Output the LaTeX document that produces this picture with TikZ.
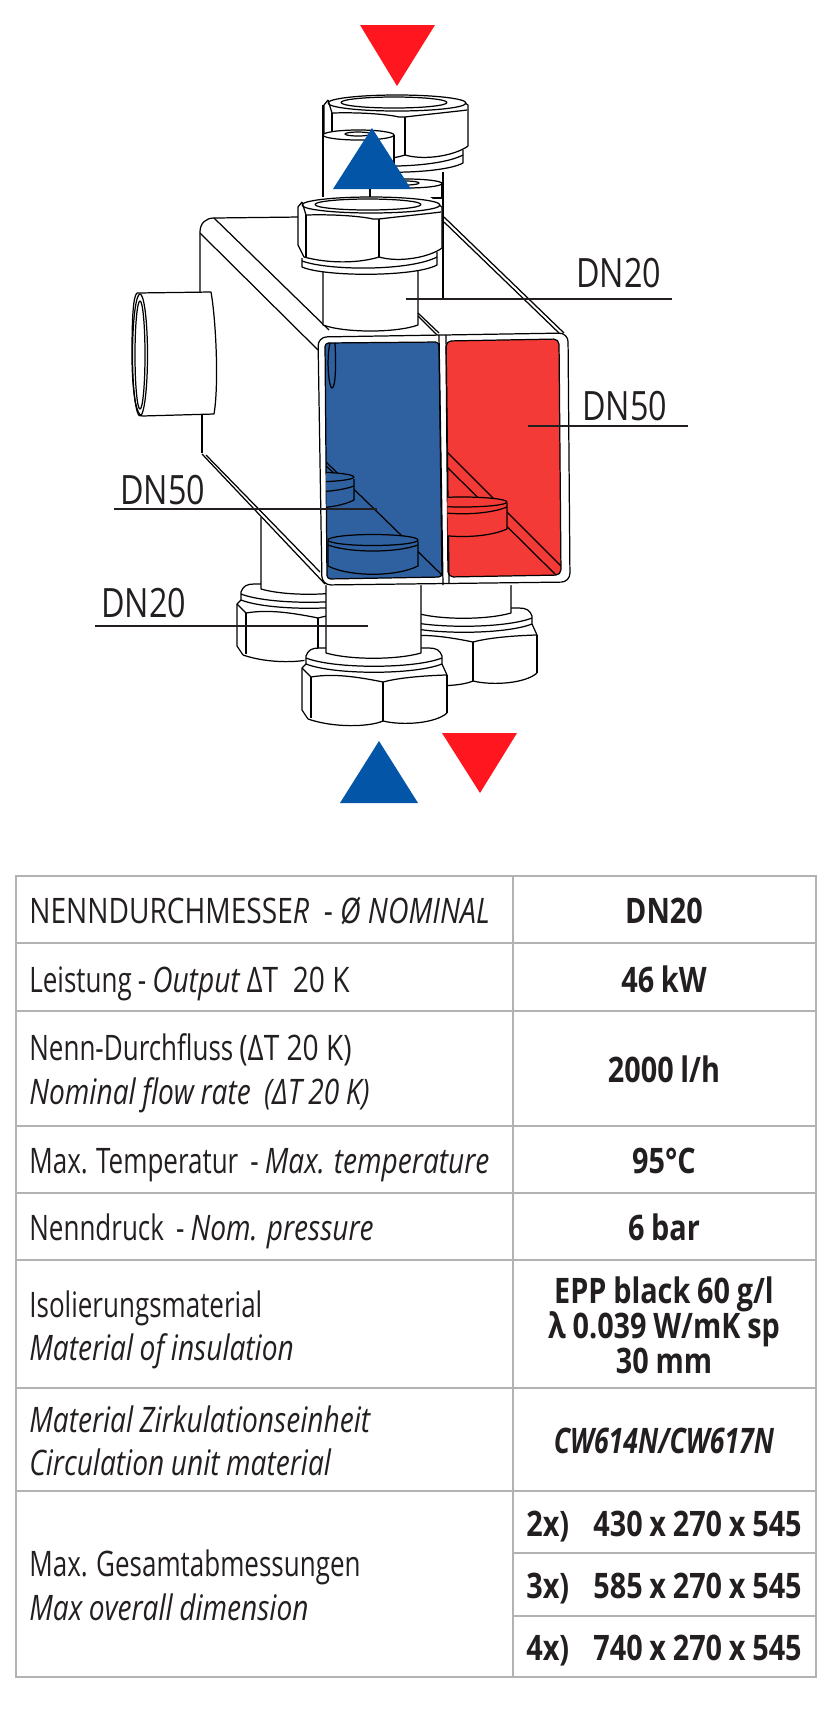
\documentclass[tikz,border=0pt]{standalone}
\usepackage{fontspec}
\setmainfont[FakeStretch=0.74,ItalicFeatures={FakeStretch=0.80},BoldFeatures={FakeStretch=0.82},BoldItalicFeatures={FakeStretch=0.76},WordSpace=0.9]{Open Sans}
\newfontfamily\capsfont[FakeStretch=0.80,ItalicFeatures={FakeStretch=0.81}]{Open Sans}
\usepackage{xcolor}
\definecolor{hotred}{HTML}{FF161F}
\definecolor{coldblue}{HTML}{0355A7}
\definecolor{hotfill}{HTML}{F33A36}
\definecolor{coldfill}{HTML}{2F61A0}
\definecolor{inkgrey}{HTML}{231F20}
\definecolor{tabgrey}{HTML}{B2B2B2}
\tikzset{
	part/.style={draw=black,line width=0.7pt,line join=round},
	leader/.style={draw=inkgrey,line width=1.1pt},
	tabline/.style={draw=tabgrey,line width=0.9pt},
	dnlabel/.style={anchor=base west,inner sep=0pt,text=inkgrey,font=\capsfont\fontsize{23}{27}\selectfont},
	rowtext/.style={anchor=base west,inner sep=0pt,text=inkgrey,font=\fontsize{20}{24}\selectfont},
	rowvalue/.style={anchor=base,inner sep=0pt,text=inkgrey,font=\fontsize{20}{24}\selectfont\bfseries},
	nuttop/.pic={
		\path[fill=white] (-72,8) -- (-60,0) -- (60,0) -- (72,8) -- (72,51) -- (67,68) .. controls (45,80) and (-45,80) .. (-68,70) -- (-72,48) -- cycle;
		\draw[part] (1,8) ellipse [x radius=69,y radius=8];
		\draw[part] (-2,7.5) ellipse [x radius=53,y radius=5.5];
		\draw[part] (-68,5) -- (-72,10) -- (-72,48) -- (-66,60);
		\draw[part] (69,8) -- (72,10) -- (72,51);
		\draw[part] (-68,5) -- (-64,18) .. controls (-30,17) and (-5,20) .. (3,22) -- (9,22) .. controls (25,20) and (55,17) .. (71,15);
		\draw[part] (9,22) -- (9,60);
		\draw[part] (-64,18) -- (-64,60);
		\draw[part] (-66,60) .. controls (-40,67) and (-10,66) .. (9,60) .. controls (30,66) and (60,60) .. (72,51);
		\draw[part] (-68,61) -- (-68,70) .. controls (-45,80) and (45,80) .. (67,68) -- (67,55);
		\draw[part] (-68,64) .. controls (-40,74) and (40,74) .. (67,60);
	},
	nutlow/.pic={
		\path[fill=white] (-55,0) -- (55,0) -- (68,8) -- (73,27) -- (73,65) .. controls (62,75) and (30,78) .. (9,73) .. controls (-5,79) and (-40,80) .. (-66,71) -- (-72,62) -- (-72,20) -- (-68,8) -- cycle;
		\draw[part] (-72,20) -- (-68,16) -- (-68,8) .. controls (-66,2) and (-62,0) .. (-55,0) -- (55,0) .. controls (62,0) and (66,2) .. (68,8) -- (68,16) -- (73,27);
		\draw[part] (-68,10) .. controls (-40,21) and (40,21) .. (68,10);
		\draw[part] (-68,16) .. controls (-40,27) and (40,27) .. (68,16);
		\draw[part] (-72,20) -- (-72,62) -- (-66,71);
		\draw[part] (73,27) -- (73,65);
		\draw[part] (-72,20) -- (-63,29) .. controls (-45,26) and (-25,27) .. (9,34) .. controls (20,31) and (40,28) .. (72,27);
		\draw[part] (9,34) -- (9,73);
		\draw[part] (-63,29) -- (-63,70);
		\draw[part] (-66,71) .. controls (-40,80) and (-5,79) .. (9,73) .. controls (30,78) and (62,75) .. (73,65);
	}
}
\begin{document}
\begin{tikzpicture}[x=0.02cm,y=-0.02cm]
	\useasboundingbox (0,0) rectangle (827,1712);

	\draw[part] (323,105) -- (323,198);
	\draw[part,fill=white] (443,172) -- (443,298);
	\pic at (396,95) {nuttop};
	\draw[part] (332,113) -- (332,130);
	\draw[part,fill=white] (323,135) -- (323,198) -- (394,198) -- (394,135);
	\draw[part,fill=white] (358.5,135) ellipse [x radius=35.5,y radius=5];
	\draw[part] (358,134) ellipse [x radius=13,y radius=2];
	\draw[part,fill=white] (370,183.5) -- (370,198) -- (442,198) -- (442,183.5);
	\draw[part,fill=white] (406,183.5) ellipse [x radius=36,y radius=4.5];
	\draw[part] (406,183) ellipse [x radius=13,y radius=2];

	\pic at (309,584) {nutlow};
	\draw[part,fill=white] (261,500) -- (261,589) .. controls (285,596) and (332,596) .. (356,589) -- (356,500);
	\pic at (464,608) {nutlow};
	\draw[part,fill=white] (416,575) -- (416,613) .. controls (440,620) and (487,620) .. (511,613) -- (511,575);
	\pic at (374,648) {nutlow};
	\draw[part,fill=white] (326,575) -- (326,653) .. controls (350,660) and (397,660) .. (421,653) -- (421,575);

	\path[fill=white] (200,232) -- (214,218) -- (444,217) -- (563,333) -- (570,585) -- (325,585) -- (202,455) -- cycle;
	\draw[part] (443,217) -- (443,298);
	\draw[part] (200,293) -- (200,232) .. controls (200,223) and (206,218) .. (214,218) -- (300,217);
	\draw[part] (202,415) -- (202,453);
	\draw[part] (200,233) -- (318,350);
	\draw[part] (214,218) -- (329,330);
	\draw[part] (444,217) -- (564,333);
	\draw[part] (444,222) -- (559,333);
	\draw[part] (202,454) -- (325,584);
	\draw[part] (206,455) -- (320,572);

	\draw[part,fill=white] (137,293) -- (211,292) .. controls (216,320) and (219,385) .. (214,414) -- (142,416) .. controls (135,414) and (132,385) .. (132,355) .. controls (132,320) and (133,296) .. (137,293) -- cycle;
	\draw[part] (140,355) ellipse [x radius=7.5,y radius=61];
	\draw[part] (140,355) ellipse [x radius=5,y radius=54];

	\draw[part,fill=white] (323,270) -- (323,325) .. controls (345,333) and (396,333) .. (418,325) -- (418,270) -- cycle;
	\pic at (370,197) {nuttop};
	\draw[part] (418,313) -- (439,333);
	\draw[part] (418,316) -- (437,335);

	\draw[part,fill=white,rounded corners=5pt] (318,337) -- (568,333) -- (570,582) -- (322,585) -- cycle;
	\draw[part,fill=coldfill,rounded corners=2pt] (325,343) -- (439,342) -- (442,577) -- (327,579) -- cycle;
	\draw[part,fill=hotfill,rounded corners=3pt] (446,341) -- (559,339) -- (561,575) -- (448,577) -- cycle;
	\draw[part] (439,335) -- (443,585);
	\draw[part] (446,335) -- (449,583);
	\draw[part] (330,343) .. controls (326,360) and (329,388) .. (332,388) .. controls (336,388) and (336,360) .. (335,343);

	\begin{scope}
		\clip (325,343) -- (439,342) -- (442,577) -- (327,579) -- cycle;
		\draw[part] (326,462) -- (442,575);
		\draw[part] (326,466) -- (336,475);
		\draw[part,fill=coldfill] (264,479) -- (264,500) .. controls (285,511) and (333,511) .. (354,500) -- (354,479);
		\draw[part,fill=coldfill] (309,477) ellipse [x radius=45,y radius=5];
		\draw[part] (264,486) .. controls (285,494) and (333,494) .. (354,486);
		\draw[part,fill=coldfill] (328,541) -- (328,566) .. controls (350,577) and (396,577) .. (418,566) -- (418,541);
		\draw[part,fill=coldfill] (373,540) ellipse [x radius=45,y radius=5.5];
		\draw[part] (328,545) .. controls (350,553) and (396,553) .. (418,545);
	\end{scope}
	\begin{scope}
		\clip (446,341) -- (559,339) -- (561,575) -- (448,577) -- cycle;
		\draw[part] (447,452) -- (561,566);
		\draw[part] (447,467) -- (556,575);
		\draw[part,fill=hotfill] (417,503) -- (417,529) .. controls (440,539) and (485,539) .. (507,529) -- (507,503);
		\draw[part,fill=hotfill] (462,502) ellipse [x radius=45,y radius=5];
		\draw[part] (417,507) .. controls (440,516) and (485,516) .. (507,507);
	\end{scope}

	\path[fill=hotred] (360,25) -- (435,25) -- (397,86) -- cycle;
	\path[fill=coldblue] (372,128) -- (411,189) -- (333,189) -- cycle;
	\path[fill=coldblue] (379,741) -- (418,803) -- (340,803) -- cycle;
	\path[fill=hotred] (442,733) -- (517,733) -- (480,793) -- cycle;

	\coordinate (dn20up) at (406,299);
	\coordinate (dn20upend) at (672,299);
	\coordinate (dn50right) at (528,426);
	\coordinate (dn50rightend) at (688,426);
	\coordinate (dn50left) at (377,509);
	\coordinate (dn50leftend) at (114,509);
	\coordinate (dn20low) at (368,626);
	\coordinate (dn20lowend) at (95,626);
	\draw[leader] (dn20up) -- (dn20upend);
	\draw[leader] (dn50right) -- (dn50rightend);
	\draw[leader] (dn50left) -- (dn50leftend);
	\draw[leader] (dn20low) -- (dn20lowend);
	\node[dnlabel] (labeldn20up) at (576,287) {DN20};
	\node[dnlabel] (labeldn50right) at (582,420) {DN50};
	\node[dnlabel] (labeldn50left) at (120,504) {DN50};
	\node[dnlabel] (labeldn20low) at (101,617) {DN20};

	\draw[tabline] (16,876) rectangle (816,1677);
	\draw[tabline] (513,876) -- (513,1677);
	\draw[tabline] (16,943) -- (816,943);
	\draw[tabline] (16,1011) -- (816,1011);
	\draw[tabline] (16,1126) -- (816,1126);
	\draw[tabline] (16,1193) -- (816,1193);
	\draw[tabline] (16,1260) -- (816,1260);
	\draw[tabline] (16,1388) -- (816,1388);
	\draw[tabline] (16,1491) -- (816,1491);
	\draw[tabline] (513,1553) -- (816,1553);
	\draw[tabline] (513,1616) -- (816,1616);

	\node[rowtext] (nominal) at (29,923) {\capsfont NENNDURCHMESSE\textit{R}\ \ - \textit{Ø NOMINAL}};
	\node[rowtext] (output) at (29,992) {Leistung - \textit{Output} {\capsfont ΔT\ \ 20 K}};
	\node[rowtext] (flow) at (29,1060) {Nenn-Durchfluss {\capsfont (ΔT 20 K)}};
	\node[rowtext] (flowen) at (29,1104) {\textit{Nominal flow rate\ \ (ΔT 20 K)}};
	\node[rowtext] (temp) at (29,1173) {Max. Temperatur\ \ - \textit{Max. temperature}};
	\node[rowtext] (press) at (29,1240) {Nenndruck\ \ - \textit{Nom. pressure}};
	\node[rowtext] (insul) at (29,1317) {Isolierungsmaterial};
	\node[rowtext] (insulen) at (29,1360) {\textit{Material of insulation}};
	\node[rowtext] (unit) at (29,1432) {\textit{Material Zirkulationseinheit}};
	\node[rowtext] (uniten) at (29,1475) {\textit{Circulation unit material}};
	\node[rowtext] (dims) at (29,1576) {Max. Gesamtabmessungen};
	\node[rowtext] (dimsen) at (29,1620) {\textit{Max overall dimension}};

	\node[rowvalue] (nominalval) at (664,923) {DN20};
	\node[rowvalue] (outputval) at (664,992) {46 kW};
	\node[rowvalue] (flowval) at (664,1082) {2000 l/h};
	\node[rowvalue] (tempval) at (664,1173) {95°C};
	\node[rowvalue] (pressval) at (664,1240) {6 bar};
	\node[rowvalue] (insulvala) at (664,1303) {EPP black 60 g/l};
	\node[rowvalue] (insulvalb) at (664,1338) {λ 0.039 W/mK sp};
	\node[rowvalue] (insulvalc) at (664,1373) {30 mm};
	\node[rowvalue] (unitval) at (664,1453) {\textit{CW614N/CW617N}};
	\node[rowvalue,anchor=base west] (twox) at (526,1536) {2x)};
	\node[rowvalue,anchor=base east] (twoval) at (802,1536) {430 x 270 x 545};
	\node[rowvalue,anchor=base west] (threex) at (526,1598) {3x)};
	\node[rowvalue,anchor=base east] (threeval) at (802,1598) {585 x 270 x 545};
	\node[rowvalue,anchor=base west] (fourx) at (526,1660) {4x)};
	\node[rowvalue,anchor=base east] (fourval) at (802,1660) {740 x 270 x 545};
\end{tikzpicture}
\end{document}
